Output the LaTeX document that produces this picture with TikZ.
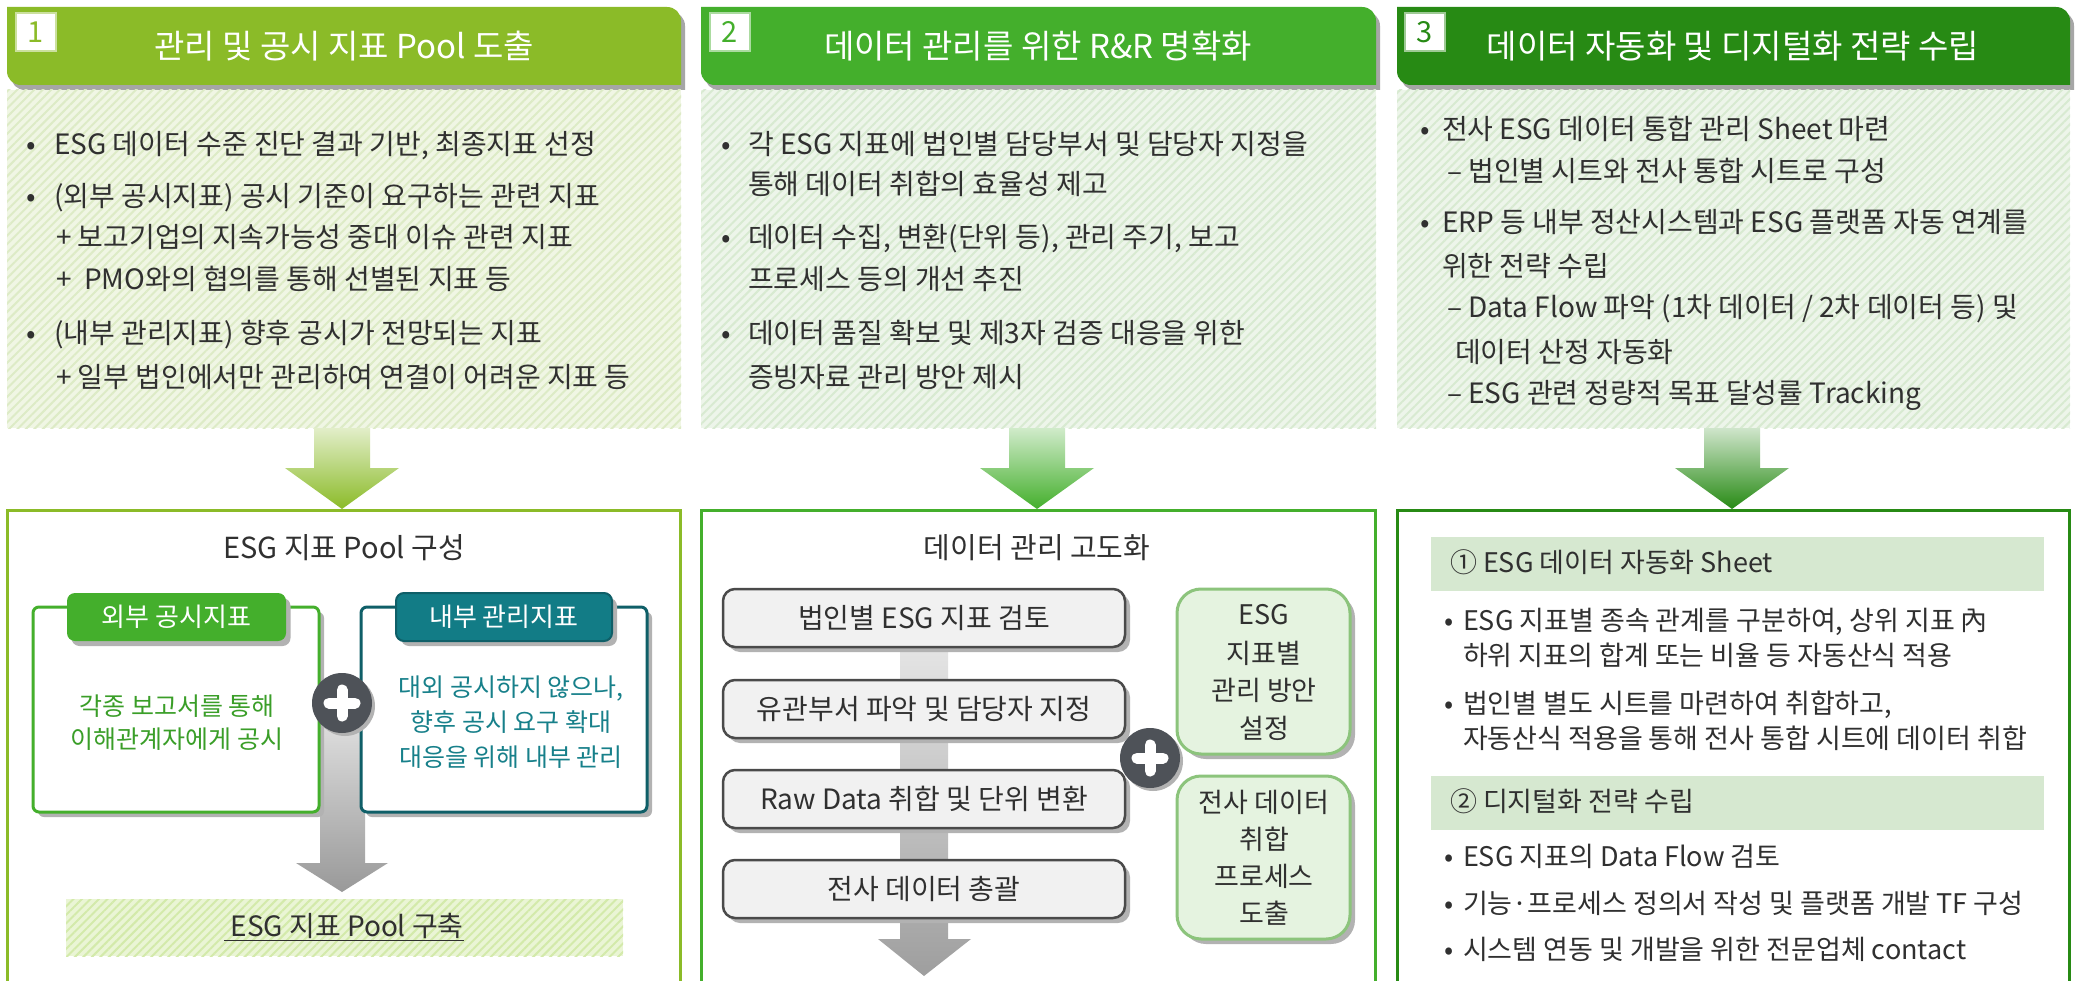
\documentclass[tikz,border=0pt]{standalone}
\usepackage{fontspec}
\setmainfont{Noto Sans CJK KR}
\usetikzlibrary{patterns.meta,calc}
\definecolor{cA}{HTML}{8BBB28}
\definecolor{cB}{HTML}{44AF2C}
\definecolor{cC}{HTML}{278A14}
\definecolor{txtc}{HTML}{303030}
\definecolor{tealc}{HTML}{127C86}
\definecolor{tealdk}{HTML}{0F5F68}
\definecolor{greentx}{HTML}{3A9E28}
\definecolor{tealtx}{HTML}{17808A}
\definecolor{pbgA}{HTML}{F0F6E4}
\definecolor{pstA}{HTML}{DDEBC6}
\definecolor{pbgB}{HTML}{EDF5EA}
\definecolor{pstB}{HTML}{D8EAD1}
\definecolor{poolbg}{HTML}{EAF5D5}
\definecolor{poolst}{HTML}{D3EAAA}
\definecolor{barc}{HTML}{D6E8D0}
\definecolor{gboxf}{HTML}{F1F1F1}
\definecolor{gboxd}{HTML}{4A4A4A}
\definecolor{lgf}{HTML}{E5F3E0}
\definecolor{lgd}{HTML}{8CC47C}
\definecolor{plusc}{HTML}{4E5258}
\newcommand\fsz[1]{\fontsize{#1}{#1}\selectfont}
\newcommand\hdrpath[2]{(#1,7) -- ({#2-14},7) .. controls ({#2-6},7) and (#2,13) .. (#2,21) -- (#2,85) -- ({#1+14},85) .. controls ({#1+6},85) and (#1,79) .. (#1,71) -- cycle}
\newcommand\arrpath[1]{({#1-28},428) -- ({#1+28},428) -- ({#1+28},468) -- ({#1+57},468) -- (#1,509) -- ({#1-57},468) -- ({#1-28},468) -- cycle}
\tikzset{
  every node/.style={inner sep=0pt, outer sep=0pt},
  body/.style={anchor=west, font=\fsz{28}, text=txtc, text height=24pt, text depth=4pt},
  bodyb/.style={anchor=west, font=\fsz{27}, text=txtc, text height=23pt, text depth=4pt},
  hdrtext/.style={font=\fsz{33}, text=white},
  numbox/.style={draw=#1!45, line width=2pt, fill=white, minimum width=40pt, minimum height=38pt, text=#1, font=\fsz{29}},
  outerbox/.style={draw=#1, line width=3pt},
  shadowc/.style={fill=black!30},
  gbox/.style={draw=gboxd, line width=2.5pt, fill=gboxf, rounded corners=12pt, minimum width=402pt, minimum height=58pt, font=\fsz{28}, text=txtc},
  lgbox/.style={draw=lgd, line width=3pt, fill=lgf, rounded corners=24pt, minimum width=173pt, font=\fsz{27}, text=txtc, align=center},
  lgtext/.style={font=\fsz{27}, text=txtc},
  plusnode/.style={circle, fill=plusc, minimum size=60pt},
}
\begin{document}
\begin{tikzpicture}[x=1pt,y=-1pt]
\useasboundingbox (0,0) rectangle (2076,981);
\clip (0,0) rectangle (2076,981);
\fill[white] (0,0) rectangle (2076,981);

% ---------- headers ----------
\foreach \L/\R/\C in {7/681/cA,701/1376/cB,1397/2070/cC}{
  \fill[black!35, shift={(4,5)}] \hdrpath{\L}{\R};
  \fill[\C] \hdrpath{\L}{\R};
}
\node[numbox=cA] (n1) at (36,32) {1};
\node[numbox=cB] (n2) at (730,32) {2};
\node[numbox=cC] (n3) at (1425,32) {3};
\node[hdrtext] (h1) at (344,46) {관리 및 공시 지표 Pool 도출};
\node[hdrtext] (h2) at (1038,46) {데이터 관리를 위한 R\&R 명확화};
\node[hdrtext] (h3) at (1733,46) {데이터 자동화 및 디지털화 전략 수립};

% ---------- hatched panels ----------
\fill[pbgA] (7,90) rectangle (681,428);
\fill[pattern={Lines[angle=45,distance=6pt,line width=2pt]}, pattern color=pstA] (7,90) rectangle (681,428);
\fill[pbgB] (701,90) rectangle (1376,428);
\fill[pattern={Lines[angle=45,distance=6pt,line width=2pt]}, pattern color=pstB] (701,90) rectangle (1376,428);
\fill[pbgB] (1397,90) rectangle (2070,428);
\fill[pattern={Lines[angle=45,distance=6pt,line width=2pt]}, pattern color=pstB] (1397,90) rectangle (2070,428);

% col1 panel text
\node[body] (a1b) at (27,145) {•};
\node[body] (a1) at (54,145) {ESG 데이터 수준 진단 결과 기반, 최종지표 선정};
\node[body] (a2b) at (27,197) {•};
\node[body] (a2) at (54,197) {(외부 공시지표) 공시 기준이 요구하는 관련 지표};
\node[body] (a3) at (56,238) {+ 보고기업의 지속가능성 중대 이슈 관련 지표};
\node[body] (a4) at (56,280) {+ \ PMO와의 협의를 통해 선별된 지표 등};
\node[body] (a5b) at (27,333) {•};
\node[body] (a5) at (54,333) {(내부 관리지표) 향후 공시가 전망되는 지표};
\node[body] (a6) at (56,377) {+ 일부 법인에서만 관리하여 연결이 어려운 지표 등};

% col2 panel text
\node[body] (b1b) at (721,145) {•};
\node[body] (b1) at (748,145) {각 ESG 지표에 법인별 담당부서 및 담당자 지정을};
\node[body] (b2) at (748,185) {통해 데이터 취합의 효율성 제고};
\node[body] (b3b) at (721,238) {•};
\node[body] (b3) at (748,238) {데이터 수집, 변환(단위 등), 관리 주기, 보고};
\node[body] (b4) at (748,280) {프로세스 등의 개선 추진};
\node[body] (b5b) at (721,333) {•};
\node[body] (b5) at (748,333) {데이터 품질 확보 및 제3자 검증 대응을 위한};
\node[body] (b6) at (748,377) {증빙자료 관리 방안 제시};

% col3 panel text
\node[body] (c1b) at (1420,130) {•};
\node[body] (c1) at (1442,130) {전사 ESG 데이터 통합 관리 Sheet 마련};
\node[body] (c2) at (1447,172) {– 법인별 시트와 전사 통합 시트로 구성};
\node[body] (c3b) at (1420,223) {•};
\node[body] (c3) at (1442,223) {ERP 등 내부 정산시스템과 ESG 플랫폼 자동 연계를};
\node[body] (c4) at (1442,267) {위한 전략 수립};
\node[body] (c5) at (1447,308) {– Data Flow 파악 (1차 데이터 / 2차 데이터 등) 및};
\node[body] (c6) at (1455,352) {데이터 산정 자동화};
\node[body] (c7) at (1447,393) {– ESG 관련 정량적 목표 달성률 Tracking};

% ---------- green arrows ----------
\shade[top color=cA!25, bottom color=cA] \arrpath{342};
\shade[top color=cB!25, bottom color=cB] \arrpath{1037};
\shade[top color=cC!22, bottom color=cC] \arrpath{1732};

% ---------- bottom boxes ----------
\draw[outerbox=cA] (7,510) rectangle (680,1000);
\draw[outerbox=cB] (701,510) rectangle (1375,1000);
\draw[outerbox=cC] (1397,510) rectangle (2069,1000);

% ===== column 1 bottom =====
\node[font=\fsz{29}, text=txtc] (t1) at (344,548) {ESG 지표 Pool 구성};
% gray arrow
\shade[top color=black!10, bottom color=black!40] (320,703) -- (365,703) -- (365,863) -- (388,863) -- (342,892) -- (296,863) -- (320,863) -- cycle;
% left box
\fill[shadowc, rounded corners=6pt] (38,612) rectangle (324,817);
\draw[draw=cB, line width=3pt, fill=white, rounded corners=6pt] (33,607) rectangle (319,812);
\node[draw=none, fill=black!30, rounded corners=8pt, minimum width=219pt, minimum height=48pt] (tagAs) at (181,622) {};
\node[fill=cB, rounded corners=8pt, minimum width=219pt, minimum height=48pt, font=\fsz{26}, text=white] (tagA) at (176.5,617) {외부 공시지표};
\node[font=\fsz{25}, text=greentx] (la1) at (177,706) {각종 보고서를 통해};
\node[font=\fsz{25}, text=greentx] (la2) at (177,739) {이해관계자에게 공시};
% right box
\fill[shadowc, rounded corners=6pt] (366,612) rectangle (652,817);
\draw[draw=tealdk, line width=3pt, fill=white, rounded corners=6pt] (361,607) rectangle (647,812);
\node[fill=black!30, rounded corners=8pt, minimum width=216pt, minimum height=48pt] (tagBs) at (509,622) {};
\node[draw=tealdk, line width=2pt, fill=tealc, rounded corners=8pt, minimum width=216pt, minimum height=48pt, font=\fsz{26}, text=white] (tagB) at (504,617) {내부 관리지표};
\node[font=\fsz{25}, text=tealtx] (lb1) at (511,689) {대외 공시하지 않으나,};
\node[font=\fsz{25}, text=tealtx] (lb2) at (511,722) {향후 공시 요구 확대};
\node[font=\fsz{25}, text=tealtx] (lb3) at (511,757) {대응을 위해 내부 관리};
% plus
\node[plusnode, fill=black!30] (p1s) at (345,706) {};
\node[plusnode] (p1) at (342,703) {};
\draw[white, line width=11pt, line cap=round] ($(p1)+(-13,0)$) -- ($(p1)+(13,0)$);
\draw[white, line width=11pt, line cap=round] ($(p1)+(0,-13)$) -- ($(p1)+(0,13)$);
% pool box
\fill[poolbg] (66,899) rectangle (623,956);
\fill[pattern={Lines[angle=45,distance=6pt,line width=2pt]}, pattern color=poolst] (66,899) rectangle (623,956);
\node[font=\fsz{28}, text=txtc] (pool) at (344,927) {\underline{\ ESG 지표 Pool 구축}};

% ===== column 2 bottom =====
\node[font=\fsz{29}, text=txtc] (t2) at (1037,548) {데이터 관리 고도화};
\shade[top color=black!8, bottom color=black!38] (900,618) -- (948,618) -- (948,939) -- (971,939) -- (924,976) -- (878,939) -- (900,939) -- cycle;
\foreach \yy/\nm/\tx in {618/g1/법인별 ESG 지표 검토,709/g2/유관부서 파악 및 담당자 지정,799/g3/Raw Data 취합 및 단위 변환,889/g4/전사 데이터 총괄}{
  \fill[black!30, rounded corners=12pt] (728,{\yy-24}) rectangle (1130,{\yy+34});
  \node[gbox] (\nm) at (924,\yy) {\tx};
}
\fill[black!30, rounded corners=24pt] (1182,594) rectangle (1355,759);
\node[lgbox, minimum height=165pt] (r1) at (1263.5,671.5) {};
\fill[black!30, rounded corners=24pt] (1182,781) rectangle (1355,944);
\node[lgbox, minimum height=163pt] (r2) at (1263.5,857.5) {};
\node[lgtext] (r1a) at (1264,615) {ESG};
\node[lgtext] (r1b) at (1264,653) {지표별};
\node[lgtext] (r1c) at (1264,690) {관리 방안};
\node[lgtext] (r1d) at (1264,728) {설정};
\node[lgtext] (r2a) at (1264,802) {전사 데이터};
\node[lgtext] (r2b) at (1264,839) {취합};
\node[lgtext] (r2c) at (1264,876) {프로세스};
\node[lgtext] (r2d) at (1264,913) {도출};
\node[plusnode, fill=black!30] (p2s) at (1153,761) {};
\node[plusnode] (p2) at (1150,758) {};
\draw[white, line width=11pt, line cap=round] ($(p2)+(-13,0)$) -- ($(p2)+(13,0)$);
\draw[white, line width=11pt, line cap=round] ($(p2)+(0,-13)$) -- ($(p2)+(0,13)$);

% ===== column 3 bottom =====
\fill[barc] (1431,537) rectangle (2044,591);
\node[bodyb] (s1) at (1450,563) {① ESG 데이터 자동화 Sheet};
\node[bodyb] (d1b) at (1444,621) {•};
\node[bodyb] (d1) at (1463,621) {ESG 지표별 종속 관계를 구분하여, 상위 지표 內};
\node[bodyb] (d2) at (1463,656) {하위 지표의 합계 또는 비율 등 자동산식 적용};
\node[bodyb] (d3b) at (1444,704) {•};
\node[bodyb] (d3) at (1463,704) {법인별 별도 시트를 마련하여 취합하고,};
\node[bodyb] (d4) at (1463,739) {자동산식 적용을 통해 전사 통합 시트에 데이터 취합};
\fill[barc] (1431,776) rectangle (2044,830);
\node[bodyb] (s2) at (1450,802) {② 디지털화 전략 수립};
\node[bodyb] (e1b) at (1444,857) {•};
\node[bodyb] (e1) at (1463,857) {ESG 지표의 Data Flow 검토};
\node[bodyb] (e2b) at (1444,904) {•};
\node[bodyb] (e2) at (1463,904) {기능·프로세스 정의서 작성 및 플랫폼 개발 TF 구성};
\node[bodyb] (e3b) at (1444,950) {•};
\node[bodyb] (e3) at (1463,950) {시스템 연동 및 개발을 위한 전문업체 contact};
\end{tikzpicture}
\end{document}
